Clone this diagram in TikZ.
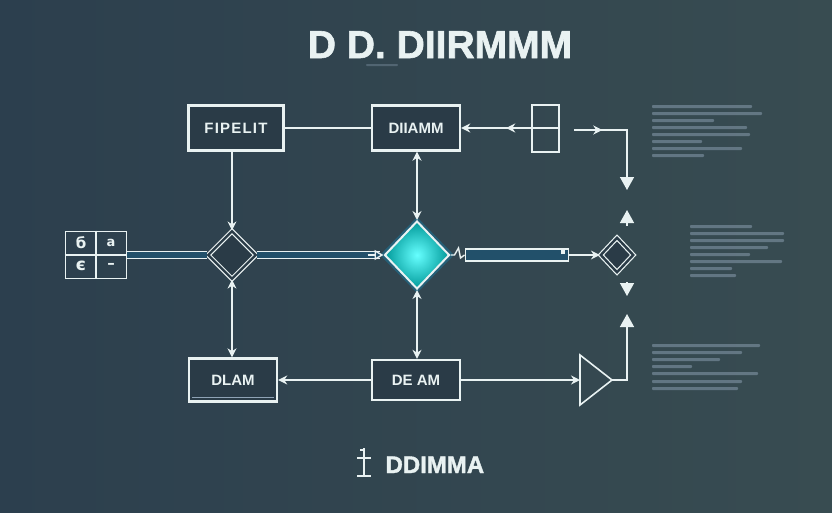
\documentclass[tikz,border=0pt]{standalone}
\usepackage{fontspec}
\setmainfont{Liberation Sans}
\newfontfamily\djv{DejaVu Sans}
\newfontfamily\heavy[FakeBold=1.6]{Liberation Sans Bold}
\usetikzlibrary{arrows.meta,shapes.geometric,decorations.markings}
\definecolor{bgA}{HTML}{2C3F4E}
\definecolor{bgB}{HTML}{384C51}
\definecolor{ln}{HTML}{E9F2F2}
\definecolor{boxin}{HTML}{2A3B47}
\definecolor{barfill}{HTML}{22506A}
\definecolor{txtbar}{HTML}{8FA3B6}
\tikzset{
  lbox/.style={draw=ln, line width=2.4pt, fill=boxin, inner sep=0pt, text=ln,
     font=\bfseries\fontsize{15}{15}\selectfont},
  conn/.style={draw=ln, line width=1.4pt},
  tip/.style={-{Stealth[length=9pt,width=9pt]}},
  tipb/.style={{Stealth[length=9pt,width=9pt]}-{Stealth[length=9pt,width=9pt]}},
  bigtip/.style={-{Triangle[length=13pt,width=14pt]}},
  dbl/.style={draw=ln, line width=1.2pt, double=barfill, double distance=6pt},
  midtip/.style={postaction={decorate}, decoration={markings,
     mark=at position #1 with {\arrow{Stealth[length=9pt,width=9pt]}}}},
  tbar/.style={fill=txtbar, opacity=0.5, rounded corners=0.8pt},
  cell/.style={text=ln, font=\djv\bfseries\fontsize{15}{15}\selectfont},
}
\begin{document}
\begin{tikzpicture}[x=1pt,y=-1pt]
\useasboundingbox (0,0) rectangle (832,512);
\shade[left color=bgA, right color=bgB] (0,0) rectangle (832,512);

% title
\node[text=ln, font=\heavy\fontsize{39}{39}\selectfont, anchor=base] (title) at (440,58) {D D. DIIRMMM};
\fill[tbar, opacity=0.35] (366,64) rectangle (398,66);

% top boxes
\node[lbox, minimum width=95pt, minimum height=45pt] (fip) at (236,128) {\addfontfeature{LetterSpace=8}FIPELIT};
\node[lbox, minimum width=88pt, minimum height=45pt] (dia) at (416,128) {DIIAMM};
\node[draw=ln, line width=2pt, minimum width=27pt, minimum height=47pt, inner sep=0pt] (rect) at (545,128) {};
\draw[ln, line width=2pt] (rect.west) -- (rect.east);

% left grid
\node[draw=ln, line width=1.8pt, minimum width=61pt, minimum height=47pt, inner sep=0pt] (grid) at (96,255) {};
\draw[ln, line width=1.8pt] (grid.north) -- (grid.south) (grid.west) -- (grid.east);
\node[cell] (g1) at (81,243) {б};
\node[cell, font=\djv\bfseries\fontsize{13}{13}\selectfont] (g2) at (111,243) {a};
\node[cell, font=\djv\bfseries\fontsize{17}{17}\selectfont] (g3) at (81,266) {є};
\node[cell] (g4) at (111,266) {–};

% diamonds
\node[diamond, draw=red!40!ln, line width=3.4pt, opacity=0.5, minimum width=50pt, minimum height=50pt, inner sep=0pt] (d1glow) at (232,255) {};
\node[diamond, draw=ln, line width=1.2pt, double=boxin, double distance=2.2pt, fill=boxin, minimum width=48pt, minimum height=48pt, inner sep=0pt] (d1) at (232,255) {};
\node[diamond, fill=cyan, opacity=0.25, minimum width=74pt, minimum height=76pt, inner sep=0pt] (d2glow) at (417,255) {};
\node[diamond, draw=ln, line width=2pt, inner color=cyan!60!white, outer color=cyan!50!teal!80!black, minimum width=65pt, minimum height=68pt, inner sep=0pt] (d2) at (417,255) {};
\node[diamond, draw=ln, line width=1.2pt, double=boxin, double distance=2.4pt, fill=boxin, minimum width=33pt, minimum height=35pt, inner sep=0pt] (d3) at (617,255) {};

% bottom boxes
\node[lbox, minimum width=88pt, minimum height=43pt] (dlam) at (233,380) {DLAM};
\draw[txtbar, line width=1.5pt] ([xshift=4pt,yshift=5pt]dlam.south west) -- ([xshift=-4pt,yshift=5pt]dlam.south east);
\node[lbox, minimum width=88pt, minimum height=40pt] (deam) at (416,380) {DE AM};
\coordinate (triL) at (580,380);
\coordinate (triR) at (612,380);
\draw[ln, line width=1.6pt] (580,355) -- (triR) -- (580,405) -- cycle;

% connectors top
\draw[conn] (fip.east) -- (dia.west);
\draw[conn, tip, midtip=0.35] (rect.west) -- (dia.east);
\coordinate (s1) at (574,130);
\coordinate (e1) at (627,190);
\draw[conn, bigtip, midtip=0.25] (s1) -| (e1);
\coordinate (u1a) at (627,226);
\coordinate (u1b) at (627,210);
\draw[conn, bigtip] (u1a) -- (u1b);
\coordinate (u2a) at (627,282);
\coordinate (u2b) at (627,296);
\draw[conn, bigtip] (u2a) -- (u2b);
\coordinate (e2) at (627,314);
\draw[conn, bigtip] (triR) -| (e2);

% verticals
\draw[conn, tip] (fip.south -| d1.north) -- (d1.north);
\draw[conn, tipb] (d1.south) -- (d1.south |- dlam.north);
\draw[conn, tipb] (dia.south -| d2.north) -- (d2.north);
\draw[conn, tipb] (d2.south) -- (d2.south |- deam.north);

% horizontals
\draw[dbl] (grid.east) -- (d1.west);
\draw[dbl, shorten >=4pt] (d1.east) -- (d2.west);
\draw[conn, -{Triangle[open,length=9pt,width=10pt]}] ([xshift=-16pt]d2.west) -- (d2.west);
\draw[ln, line width=1.4pt] (d2.east) -- ++(4,0) -- ++(4,-7) -- ++(2,10) -- ++(4,-3);
\node[draw=ln, line width=1.2pt, fill=barfill, minimum width=103pt, minimum height=12pt, inner sep=0pt] (bar) at (517,255) {};
\fill[ln] (561,250) rectangle (565,254);
\draw[conn, tip] (bar.east) -- (d3.west);
\draw[conn, tip] (deam.west) -- (dlam.east);
\draw[conn, tip] (deam.east) -- (triL);

% text blocks (illegible lines)
\foreach \y/\w in {105/100,112/110,119/62,126/95,133/98,140/50,147/90,154/52}
  \fill[tbar] (652,\y) rectangle ++(\w,3);
\foreach \y/\w in {225/62,232/94,239/94,246/78,253/60,260/92,267/42,274/46}
  \fill[tbar] (690,\y) rectangle ++(\w,3);
\foreach \y/\w in {344/108,351/90,358/68,365/40,372/106,380/90,387/86}
  \fill[tbar] (652,\y) rectangle ++(\w,3);

% bottom logo
\draw[ln, line width=1.5pt] (364,448) -- (364,476) (360,450) -- (364,450) (357,458) -- (371,458) (357,476) -- (371,476);
\node[text=ln, font=\heavy\fontsize{24}{24}\selectfont, anchor=base west] (logo) at (382,473) {DDIMMA};
\end{tikzpicture}
\end{document}
